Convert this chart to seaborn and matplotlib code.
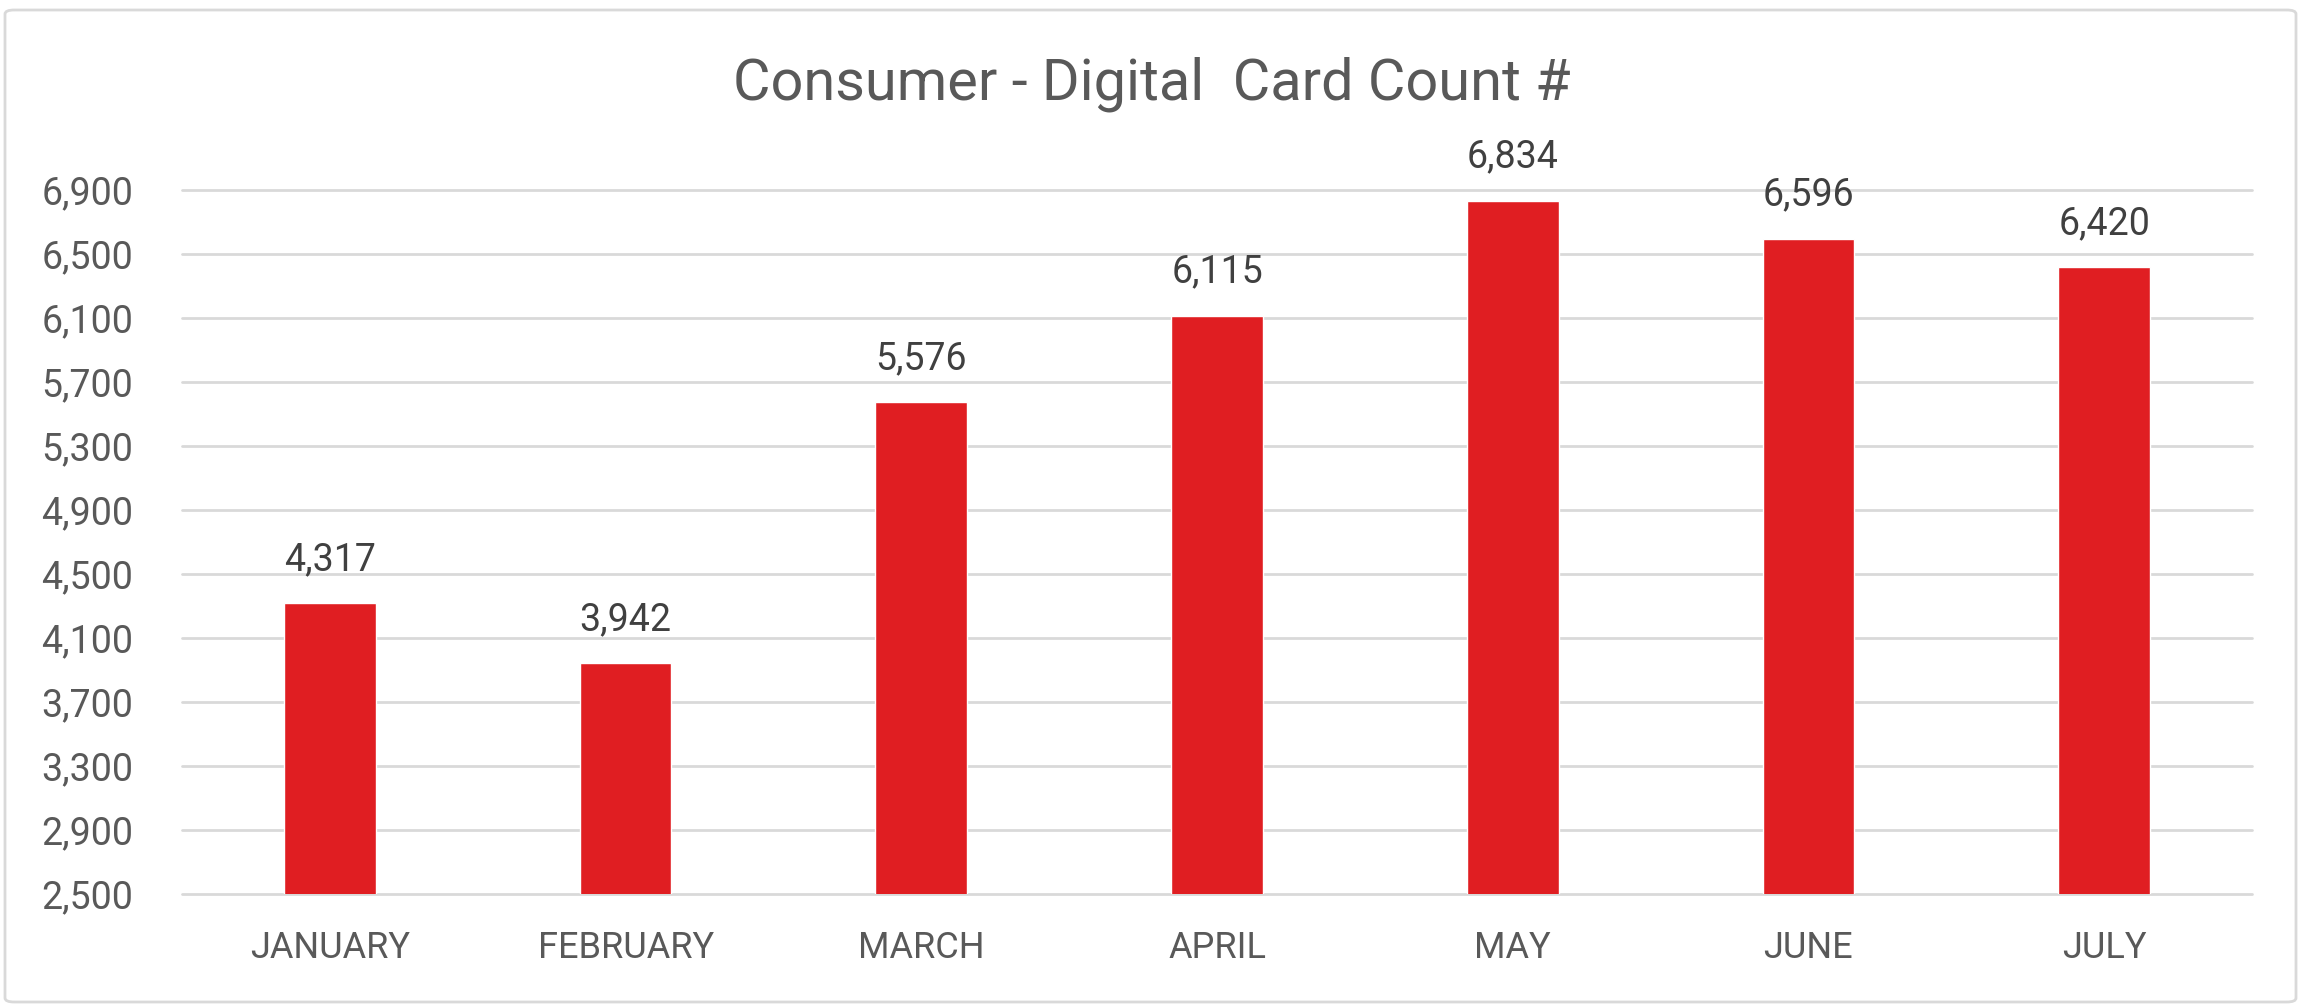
import matplotlib
matplotlib.use("Agg")
import matplotlib.pyplot as plt
import seaborn as sns
import pandas as pd
from matplotlib.patches import FancyBboxPatch

months = ["JANUARY", "FEBRUARY", "MARCH", "APRIL", "MAY", "JUNE", "JULY"]
card_counts = [4317, 3942, 5576, 6115, 6834, 6596, 6420]
y_ticks = [2500, 2900, 3300, 3700, 4100, 4500, 4900, 5300, 5700, 6100, 6500, 6900]
title = "Consumer - Digital  Card Count #"

sns.set_theme(style="white")
plt.rcParams['font.family'] = ['Roboto', 'DejaVu Sans']

W, H = 2310, 1008
fig = plt.figure(figsize=(W / 100, H / 100), dpi=100)
fig.patch.set_facecolor("white")

# outer rounded border
border = FancyBboxPatch((5 / W, 6 / H), (2296 - 5) / W, (998 - 6) / H,
                        boxstyle="round,pad=0,rounding_size=0.004",
                        transform=fig.transFigure, facecolor="none",
                        edgecolor="#D9D9D9", linewidth=2.0)
fig.patches.append(border)

ax = fig.add_axes([182 / W, 1 - 894 / H, 2070 / W, 704 / H])
df = pd.DataFrame({"month": months, "count": card_counts})
sns.barplot(data=df, x="month", y="count", color="#E01E22", saturation=1,
            width=0.31, ax=ax, zorder=3)

ax.set_ylim(y_ticks[0], y_ticks[-1])
ax.set_yticks(y_ticks)
ax.set_yticklabels([f"{t:,}" for t in y_ticks])
ax.set_xlim(-0.5, len(months) - 0.5)
ax.set_xlabel("")
ax.set_ylabel("")
for s in ax.spines.values():
    s.set_visible(False)

ax.yaxis.grid(True, color="#D9D9D9", linewidth=2.0, zorder=0)
ax.set_axisbelow(True)
for gl in ax.get_ygridlines():
    gl.set_clip_on(False)

ax.tick_params(axis="y", length=0, pad=35, labelsize=27, labelcolor="#595959")
ax.tick_params(axis="x", length=0, pad=26, labelsize=26, labelcolor="#595959")

ax.bar_label(ax.containers[0], labels=[f"{v:,}" for v in card_counts],
             padding=18, fontsize=27, color="#404040")

fig.text(0.4985, 1 - 99 / H, title, ha="center", va="baseline",
         fontsize=41.5, color="#595959")

fig.savefig("out.png", dpi=100)
